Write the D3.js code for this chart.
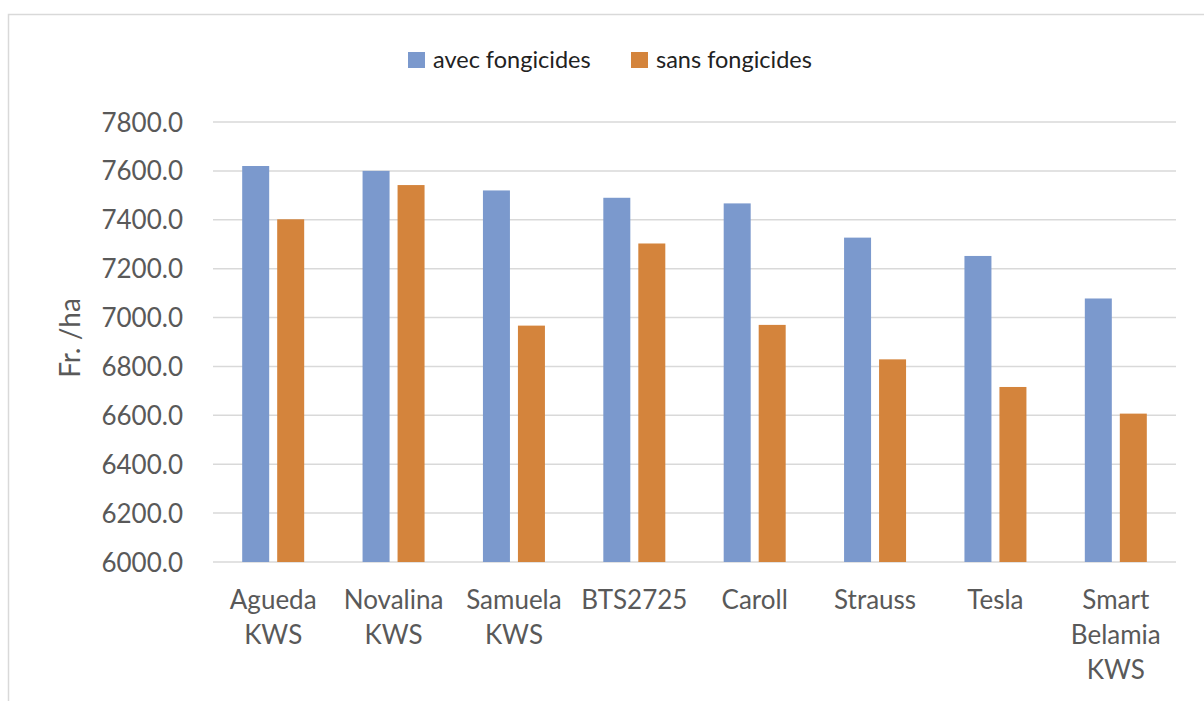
<!DOCTYPE html>
<html>
<head>
<meta charset="utf-8">
<script src="https://cdn.jsdelivr.net/npm/d3@7"></script>
<style>
  html, body { margin: 0; padding: 0; background: #fff; }
  svg { display: block; }
  text { font-family: Lato, "Open Sans", sans-serif; }
</style>
</head>
<body>
<svg id="chart" width="1204" height="701"></svg>
<script>
const categories = [
  ["Agueda", "KWS"],
  ["Novalina", "KWS"],
  ["Samuela", "KWS"],
  ["BTS2725"],
  ["Caroll"],
  ["Strauss"],
  ["Tesla"],
  ["Smart", "Belamia", "KWS"]
];
const seriesNames = ["avec fongicides", "sans fongicides"];
const avecFongicides = [7620, 7600, 7520, 7490, 7467, 7327, 7252, 7078];
const sansFongicides = [7402, 7542, 6967, 7303, 6970, 6829, 6716, 6607];
const yTicks = [6000, 6200, 6400, 6600, 6800, 7000, 7200, 7400, 7600, 7800];
const colors = ["#7b99cd", "#d4843c"];

const svg = d3.select("#chart");
const plot = { left: 213, right: 1176, top: 122, bottom: 562 };

// outer frame
svg.append("rect")
  .attr("x", 8.5).attr("y", 14.5)
  .attr("width", 1210).attr("height", 720)
  .attr("fill", "none").attr("stroke", "#d9d9d9").attr("stroke-width", 1.5);

const catKeys = categories.map(c => c.join(" "));
const p = 0.485;
const x0 = d3.scaleBand().domain(catKeys).range([plot.left, plot.right])
  .paddingInner(p).paddingOuter(p / 2);
const x1 = d3.scaleBand().domain(seriesNames).range([0, x0.bandwidth()])
  .paddingInner(8 / 35).paddingOuter(0);
const y = d3.scaleLinear().domain([6000, 7800]).range([plot.bottom, plot.top]);

// gridlines
svg.append("g").selectAll("line").data(yTicks).join("line")
  .attr("x1", plot.left).attr("x2", plot.right)
  .attr("y1", d => y(d)).attr("y2", d => y(d))
  .attr("stroke", "#d9d9d9").attr("stroke-width", 1.5);

// y axis labels
const yAxis = d3.axisLeft(y).tickValues(yTicks).tickFormat(d3.format(".1f")).tickSize(0).tickPadding(0);
const gy = svg.append("g").attr("transform", "translate(183,0)").call(yAxis);
gy.select(".domain").remove();
gy.selectAll("text")
  .attr("font-family", "Lato, 'Open Sans', sans-serif")
  .attr("font-size", 26).attr("fill", "#595959").attr("dy", "0.35em");

// bars
const data = catKeys.map((k, i) => ({ key: k, values: [avecFongicides[i], sansFongicides[i]] }));
const groups = svg.append("g").selectAll("g").data(data).join("g")
  .attr("transform", d => `translate(${x0(d.key)},0)`);
groups.selectAll("rect").data(d => d.values.map((v, j) => ({ s: seriesNames[j], v, j })))
  .join("rect")
  .attr("x", d => x1(d.s))
  .attr("width", x1.bandwidth())
  .attr("y", d => y(d.v))
  .attr("height", d => y(6000) - y(d.v))
  .attr("fill", d => colors[d.j]);

// x labels
const xl = svg.append("g").selectAll("text").data(categories).join("text")
  .attr("x", (d, i) => x0(catKeys[i]) + x0.bandwidth() / 2)
  .attr("y", 609)
  .attr("text-anchor", "middle")
  .attr("font-size", 26).attr("fill", "#595959");
xl.selectAll("tspan").data(d => d).join("tspan")
  .attr("x", function () { return d3.select(this.parentNode).attr("x"); })
  .attr("dy", (d, i) => i === 0 ? 0 : 35)
  .text(d => d);

// y title
svg.append("text")
  .attr("transform", "translate(80,338) rotate(-90)")
  .attr("text-anchor", "middle")
  .attr("font-size", 28).attr("fill", "#595959")
  .text("Fr. /ha");

// legend
const legendX = [408, 631];
const lg = svg.append("g").selectAll("g").data(seriesNames).join("g")
  .attr("transform", (d, i) => `translate(${legendX[i]},52)`);
lg.append("rect").attr("width", 17).attr("height", 16).attr("fill", (d, i) => colors[i]);
lg.append("text").attr("x", 25).attr("y", 15.5)
  .attr("font-size", 23.5).attr("fill", "#222")
  .text(d => d);
</script>
</body>
</html>
